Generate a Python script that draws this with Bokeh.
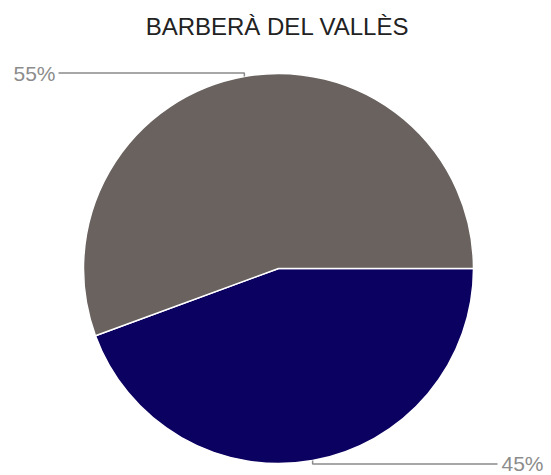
import math
from bokeh.plotting import figure
from bokeh.models import Range1d
from bokeh.core.properties import value
from bokeh.embed import file_html
from bokeh.resources import INLINE

# ---- data ----
title_text = "BARBERÀ DEL VALLÈS"
categories = ["A", "B"]
shares = [44.4, 55.6]
pct_labels = ["45%", "55%"]
colors = ["#0b0160", "#69625f"]

W, H = 551, 475
PAGE_H = 475
p = figure(width=W, height=H, output_backend="svg", toolbar_location=None,
           x_range=Range1d(0, W), y_range=Range1d(PAGE_H - H, PAGE_H),
           min_border=0, outline_line_color=None)
p.axis.visible = False
p.grid.visible = False
p.background_fill_color = "white"
p.border_fill_color = "white"

def py(y):  # page y -> data y
    return PAGE_H - y

cx, cy, r = 278.0, py(268.0), 195.0
total = sum(shares)
starts, ends, mids = [], [], []
acc = 0.0
for s in shares:
    a0 = -acc / total * 2 * math.pi
    acc += s
    a1 = -acc / total * 2 * math.pi
    starts.append(a0)
    ends.append(a1)
    mids.append((a0 + a1) / 2)

p.wedge(x=[cx] * len(shares), y=[cy] * len(shares), radius=r,
        start_angle=starts, end_angle=ends, direction="clock",
        fill_color=colors, line_color="white", line_width=1.5)

# leader lines + labels
for m, lab in zip(mids, pct_labels):
    ax = cx + r * math.cos(m)
    ay = cy + r * math.sin(m)
    up = 1 if math.sin(m) > 0 else -1
    ey = ay + up * 3.5
    if math.cos(m) < 0:
        ex = 58.0
        tx, align = 55.0, "right"
    else:
        ex = 497.0
        tx, align = 501.0, "left"
    p.line([ax, ax, ex], [ay, ey, ey], line_color="#8a8a8a", line_width=1.5)
    p.text(x=[tx], y=[ey], text=[lab], text_align=align, text_baseline="middle",
           text_font=value("Liberation Sans"), text_font_size="21px",
           text_color="#8c8c8c")

p.text(x=[277], y=[py(26)], text=[title_text], text_align="center",
       text_baseline="middle", text_font=value("Liberation Sans"),
       text_font_size="24px", text_color="#222222")

open("out.html", "w").write(file_html(p, INLINE))
